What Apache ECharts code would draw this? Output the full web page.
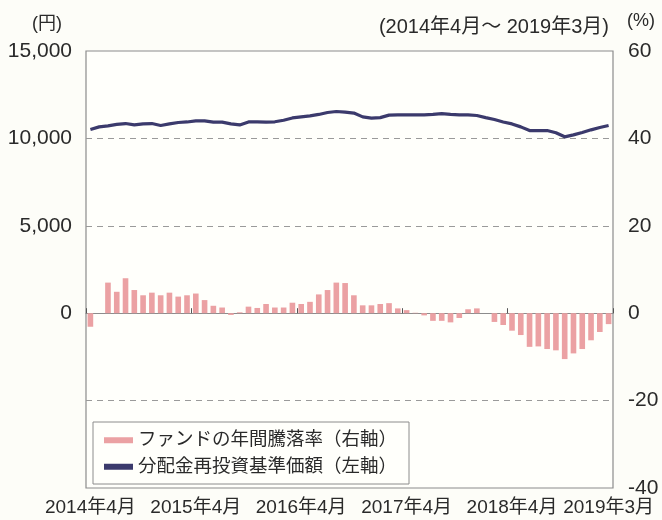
<!DOCTYPE html>
<html><head><meta charset="utf-8">
<script src="https://cdn.jsdelivr.net/npm/echarts@6/dist/echarts.min.js"></script>
<style>html,body{margin:0;padding:0;background:#fdfdf8}#c{width:662px;height:520px}</style>
</head><body><div id="c"></div>
<script>
const categories = [
 "2014年4月","2014年5月","2014年6月","2014年7月","2014年8月","2014年9月","2014年10月","2014年11月","2014年12月","2015年1月","2015年2月","2015年3月",
 "2015年4月","2015年5月","2015年6月","2015年7月","2015年8月","2015年9月","2015年10月","2015年11月","2015年12月","2016年1月","2016年2月","2016年3月",
 "2016年4月","2016年5月","2016年6月","2016年7月","2016年8月","2016年9月","2016年10月","2016年11月","2016年12月","2017年1月","2017年2月","2017年3月",
 "2017年4月","2017年5月","2017年6月","2017年7月","2017年8月","2017年9月","2017年10月","2017年11月","2017年12月","2018年1月","2018年2月","2018年3月",
 "2018年4月","2018年5月","2018年6月","2018年7月","2018年8月","2018年9月","2018年10月","2018年11月","2018年12月","2019年1月","2019年2月","2019年3月"
];
const shownLabels = ["2014年4月","2015年4月","2016年4月","2017年4月","2018年4月","2019年3月"];
// 分配金再投資基準価額 (円, 左軸)
const navValues = [
 10510,10660,10720,10800,10850,10770,10830,10850,10740,10830,10910,10940,
 11000,11000,10930,10930,10830,10770,10940,10950,10930,10950,11040,11170,
 11230,11290,11370,11480,11540,11500,11450,11230,11160,11190,11330,11350,
 11350,11350,11350,11370,11420,11370,11350,11350,11310,11190,11080,10940,
 10830,10660,10450,10450,10450,10320,10090,10200,10340,10490,10620,10740
];
// ファンドの年間騰落率 (%, 右軸)
const returnValues = [
 -3.1,0.0,7.0,4.9,8.0,5.3,4.1,4.7,4.1,4.7,3.8,4.1,
 4.5,3.0,1.7,1.3,-0.4,0.2,1.5,1.2,2.1,1.3,1.3,2.4,
 2.1,2.6,4.3,5.3,7.0,6.9,4.1,1.8,1.8,2.1,2.3,1.1,
 0.7,0.1,-0.5,-1.75,-1.75,-2.1,-1.1,0.9,1.1,0.0,-2.0,-2.7,
 -4.0,-5.0,-7.7,-7.6,-8.2,-8.5,-10.5,-9.2,-8.2,-6.2,-4.3,-2.5
];
const leftTicks = {min:-10000, max:15000, interval:5000};
const rightTicks = {min:-40, max:60, interval:20};
const seriesNames = ["ファンドの年間騰落率（右軸）","分配金再投資基準価額（左軸）"];

const FONT = "'Liberation Sans','Noto Sans CJK JP',sans-serif";
const TXT = '#2a2a2a';
const chart = echarts.init(document.getElementById('c'), null, {renderer:'canvas'});
chart.setOption({
  backgroundColor:'#fdfdf8',
  animation:false,
  textStyle:{fontFamily:FONT, color:TXT},
  grid:{left:86, right:49, top:51, bottom:32, show:true, borderColor:'#8c8c8c', borderWidth:1.2, backgroundColor:'#fffffb'},
  graphic:[
    {type:'text', left:32, top:15, style:{text:'(円)', font:"18px "+FONT, fill:TXT}},
    {type:'text', right:53, top:17, style:{text:'(2014年4月～ 2019年3月)', font:"20px "+FONT, fill:TXT}},
    {type:'text', left:627, top:12, style:{text:'(%)', font:"18px "+FONT, fill:TXT}}
  ],
  legend:{
    orient:'vertical', left:93, top:422,
    padding:[9,12,8,11], itemGap:8, itemWidth:29, itemHeight:6,
    borderColor:'#8c8c8c', borderWidth:1, backgroundColor:'#fffffb',
    textStyle:{fontSize:18.5, color:TXT, fontFamily:FONT},
    data:[{name:seriesNames[0], icon:'rect'},{name:seriesNames[1], icon:'rect'}]
  },
  xAxis:[
    {type:'category', data:categories, boundaryGap:true,
     axisLine:{show:false, onZero:false}, axisTick:{show:false}, splitLine:{show:false},
     axisLabel:{fontSize:19, color:TXT, margin:10, fontFamily:FONT,
       interval:(i, v)=>shownLabels.indexOf(v)>=0}},
    {type:'category', data:categories, boundaryGap:true, position:'bottom',
     axisLine:{show:true, onZero:true, lineStyle:{color:'#8c8c8c', width:1.2}},
     axisTick:{show:true, inside:true, interval:11, length:5, lineStyle:{color:'#555'}},
     axisLabel:{show:false}, splitLine:{show:false}}
  ],
  yAxis:[
    {type:'value', min:leftTicks.min, max:leftTicks.max, interval:leftTicks.interval,
     axisLine:{show:false}, axisTick:{show:false},
     axisLabel:{fontSize:21, color:TXT, margin:14, fontFamily:FONT,
       formatter:v=> v<0 ? '' : v.toLocaleString('en-US')},
     splitLine:{show:true, showMinLine:false, showMaxLine:false, lineStyle:{color:'#9a9a9a', type:[6,5], width:1.2}}},
    {type:'value', min:rightTicks.min, max:rightTicks.max, interval:rightTicks.interval, position:'right',
     axisLine:{show:false}, axisTick:{show:false},
     axisLabel:{fontSize:21, color:TXT, margin:15, fontFamily:FONT},
     splitLine:{show:false}}
  ],
  series:[
    {name:seriesNames[0], type:'bar', xAxisIndex:0, yAxisIndex:1, data:returnValues,
     barWidth:'64%', itemStyle:{color:'#eba1a3'}},
    {name:seriesNames[1], type:'line', xAxisIndex:0, yAxisIndex:0, data:navValues,
     showSymbol:false, symbol:'none', lineStyle:{color:'#3b3a6c', width:3.2}, itemStyle:{color:'#3b3a6c'}}
  ]
});
</script></body></html>
